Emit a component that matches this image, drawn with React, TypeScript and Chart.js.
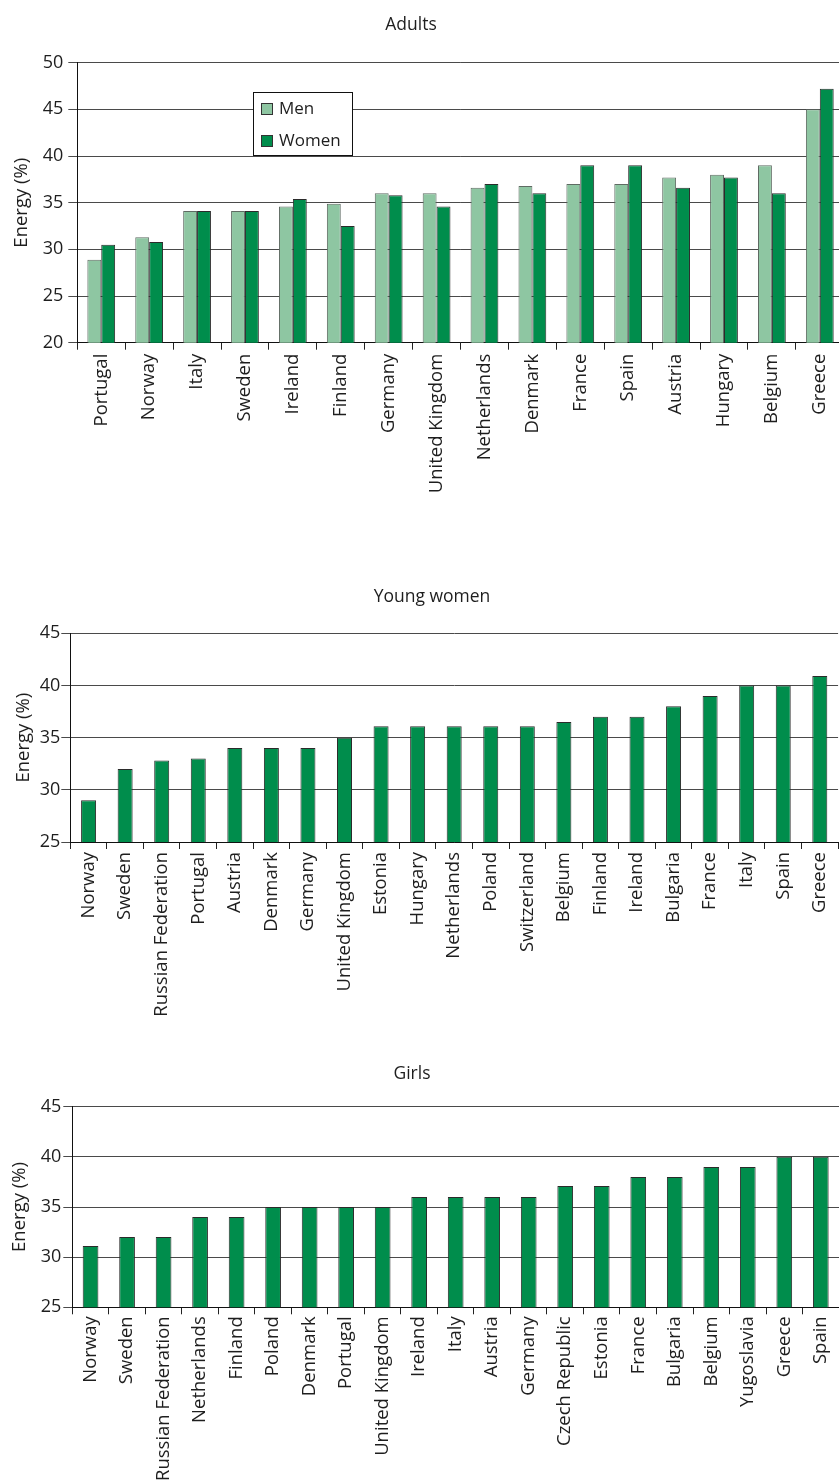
import React, { useEffect, useRef } from "react";
import { Chart, registerables } from "chart.js";

Chart.register(...registerables);

// ---------- DATA ----------
const adultCountries = [
  "Portugal", "Norway", "Italy", "Sweden", "Ireland", "Finland", "Germany",
  "United Kingdom", "Netherlands", "Denmark", "France", "Spain", "Austria",
  "Hungary", "Belgium", "Greece",
];
const adultMen = [28.9, 31.3, 34.1, 34.1, 34.6, 34.9, 36.0, 36.0, 36.6, 36.8, 37.0, 37.0, 37.7, 38.0, 39.0, 45.0];
const adultWomen = [30.5, 30.8, 34.1, 34.1, 35.4, 32.5, 35.8, 34.6, 37.0, 36.0, 39.0, 39.0, 36.6, 37.7, 36.0, 47.2];
const adultYTicks = [20, 25, 30, 35, 40, 45, 50];

const youngCountries = [
  "Norway", "Sweden", "Russian Federation", "Portugal", "Austria", "Denmark",
  "Germany", "United Kingdom", "Estonia", "Hungary", "Netherlands", "Poland",
  "Switzerland", "Belgium", "Finland", "Ireland", "Bulgaria", "France", "Italy",
  "Spain", "Greece",
];
const youngValues = [29.0, 32.0, 32.8, 33.0, 34.0, 34.0, 34.0, 35.0, 36.1, 36.1, 36.1, 36.1, 36.1, 36.5, 37.0, 37.0, 38.0, 39.0, 40.0, 40.0, 40.9];
const youngYTicks = [25, 30, 35, 40, 45];

const girlCountries = [
  "Norway", "Sweden", "Russian Federation", "Netherlands", "Finland", "Poland",
  "Denmark", "Portugal", "United Kingdom", "Ireland", "Italy", "Austria",
  "Germany", "Czech Republic", "Estonia", "France", "Bulgaria", "Belgium",
  "Yugoslavia", "Greece", "Spain",
];
const girlValues = [31.1, 32.0, 32.0, 34.0, 34.0, 35.0, 35.0, 35.0, 35.0, 36.0, 36.0, 36.0, 36.0, 37.1, 37.1, 38.0, 38.0, 39.0, 39.0, 40.0, 40.0];
const girlYTicks = [25, 30, 35, 40, 45];

const seriesNames = ["Men", "Women"];
const panelTitles = ["Adults", "Young women", "Girls"];
const axisTitle = "Energy (%)";

// ---------- STYLE ----------
const FONT = "'Open Sans', 'Noto Sans', sans-serif";
const LIGHT = "#8ec6a2";
const DARK = "#008d4c";
const TEXT = "#1e1e1e";

const panelTitlePlugin = {
  id: "panelTitle",
  afterDraw(chart: any, _args: any, opts: any) {
    if (!opts || !opts.text) return;
    const { ctx } = chart;
    ctx.save();
    ctx.fillStyle = TEXT;
    ctx.font = `${opts.fontSize}px ${FONT}`;
    ctx.textAlign = "center";
    ctx.textBaseline = "alphabetic";
    ctx.fillText(opts.text, opts.x, opts.baseline);
    ctx.restore();
  },
};

const boxLegendPlugin = {
  id: "boxLegend",
  afterDatasetsDraw(chart: any, _args: any, opts: any) {
    if (!opts || !opts.display) return;
    const { ctx, chartArea } = chart;
    const x = Math.round(chartArea.left + opts.offsetX);
    const y = Math.round(chartArea.top + opts.offsetY);
    ctx.save();
    ctx.fillStyle = "#fff";
    ctx.fillRect(x, y, opts.width, opts.height);
    ctx.strokeStyle = "#111";
    ctx.lineWidth = 1;
    ctx.strokeRect(x + 0.5, y + 0.5, opts.width, opts.height);
    chart.data.datasets.forEach((ds: any, i: number) => {
      const cy = y + opts.firstRowY + i * opts.rowGap;
      const bx = x + opts.boxX;
      const by = Math.round(cy - opts.box / 2);
      ctx.fillStyle = ds.backgroundColor;
      ctx.fillRect(bx, by, opts.box, opts.box);
      ctx.strokeStyle = "#333";
      ctx.strokeRect(bx + 0.5, by + 0.5, opts.box - 1, opts.box - 1);
      ctx.fillStyle = TEXT;
      ctx.font = `${opts.fontSize}px ${FONT}`;
      ctx.textBaseline = "middle";
      ctx.textAlign = "left";
      ctx.fillText(ds.label, x + opts.textX, cy + 1);
    });
    ctx.restore();
  },
};

type PanelProps = {
  top: number;
  width: number;
  height: number;
  config: any;
};

function Panel({ top, width, height, config }: PanelProps) {
  const ref = useRef<HTMLCanvasElement | null>(null);
  useEffect(() => {
    if (!ref.current) return;
    const chart = new Chart(ref.current, config);
    return () => chart.destroy();
  }, [config]);
  return (
    <canvas
      ref={ref}
      width={width}
      height={height}
      style={{ position: "absolute", left: 0, top, width, height, display: "block" }}
    />
  );
}

function makeConfig(p: {
  labels: string[];
  datasets: any[];
  yTicks: number[];
  title: string;
  titleX: number;
  titleBaseline: number;
  areaTop: number;
  yWidth: number;
  xHeight: number;
  yTickPad: number;
  yTitlePad: number;
  xTickPad: number;
  legend?: any;
}) {
  const yMin = p.yTicks[0];
  const yMax = p.yTicks[p.yTicks.length - 1];
  return {
    type: "bar",
    data: { labels: p.labels, datasets: p.datasets },
    plugins: [boxLegendPlugin, panelTitlePlugin],
    options: {
      responsive: false,
      animation: false,
      devicePixelRatio: 1,
      layout: { padding: { top: p.areaTop, left: 0, right: 0, bottom: 0 } },
      plugins: {
        legend: { display: false },
        tooltip: { enabled: false },
        title: { display: false },
        panelTitle: { text: p.title, x: p.titleX, baseline: p.titleBaseline, fontSize: 17.5 },
        boxLegend: p.legend || { display: false },
      },
      scales: {
        x: {
          type: "category",
          offset: true,
          grid: {
            display: true,
            offset: true,
            drawOnChartArea: false,
            drawTicks: true,
            tickLength: 7,
            color: "#222",
            lineWidth: 1,
          },
          border: { display: true, color: "#111", width: 1 },
          ticks: {
            autoSkip: false,
            minRotation: 90,
            maxRotation: 90,
            padding: p.xTickPad,
            color: TEXT,
            font: { family: FONT, size: 18.5 },
          },
          afterFit(scale: any) {
            scale.height = p.xHeight;
          },
        },
        y: {
          type: "linear",
          min: yMin,
          max: yMax,
          afterBuildTicks(scale: any) {
            scale.ticks = p.yTicks.map((v) => ({ value: v }));
          },
          grid: {
            display: true,
            drawOnChartArea: true,
            drawTicks: true,
            tickLength: 9,
            color: "#4a4a4a",
            lineWidth: 1,
          },
          border: { display: true, color: "#111", width: 1 },
          ticks: {
            padding: p.yTickPad,
            color: TEXT,
            font: { family: FONT, size: 18 },
          },
          title: {
            display: true,
            text: axisTitle,
            color: TEXT,
            font: { family: FONT, size: 18.5 },
            padding: { top: p.yTitlePad, bottom: 0 },
          },
          afterFit(scale: any) {
            scale.width = p.yWidth;
          },
        },
      },
    },
  };
}

const barStyle = { borderWidth: 1, borderSkipped: "start" };

const adultConfig = makeConfig({
  labels: adultCountries,
  datasets: [
    {
      label: seriesNames[0],
      data: adultMen,
      backgroundColor: LIGHT,
      borderColor: "#5f6b63",
      categoryPercentage: 0.58,
      barPercentage: 1.0,
      ...barStyle,
    },
    {
      label: seriesNames[1],
      data: adultWomen,
      backgroundColor: DARK,
      borderColor: "#2b2b2b",
      categoryPercentage: 0.58,
      barPercentage: 1.0,
      ...barStyle,
    },
  ],
  yTicks: adultYTicks,
  title: panelTitles[0],
  titleX: 411,
  titleBaseline: 30,
  areaTop: 62.7,
  yWidth: 77.3,
  xHeight: 177.3,
  yTickPad: 5,
  yTitlePad: 11,
  xTickPad: 4,
  legend: {
    display: true,
    offsetX: 175.7,
    offsetY: 29.3,
    width: 99,
    height: 63,
    boxX: 8,
    box: 12,
    firstRowY: 16.5,
    rowGap: 32,
    textX: 26,
    fontSize: 17,
  },
});

const youngConfig = makeConfig({
  labels: youngCountries,
  datasets: [
    {
      label: panelTitles[1],
      data: youngValues,
      backgroundColor: DARK,
      borderColor: "#2b2b2b",
      categoryPercentage: 1.0,
      barPercentage: 0.41,
      ...barStyle,
    },
  ],
  yTicks: youngYTicks,
  title: panelTitles[1],
  titleX: 432,
  titleBaseline: 42,
  areaTop: 73.3,
  yWidth: 70.3,
  xHeight: 185,
  yTickPad: 1,
  yTitlePad: 13,
  xTickPad: 3,
});

const girlConfig = makeConfig({
  labels: girlCountries,
  datasets: [
    {
      label: panelTitles[2],
      data: girlValues,
      backgroundColor: DARK,
      borderColor: "#2b2b2b",
      categoryPercentage: 1.0,
      barPercentage: 0.43,
      ...barStyle,
    },
  ],
  yTicks: girlYTicks,
  title: panelTitles[2],
  titleX: 412,
  titleBaseline: 39,
  areaTop: 66.7,
  yWidth: 72.3,
  xHeight: 172.7,
  yTickPad: 2,
  yTitlePad: 9,
  xTickPad: 2,
});

export default function App() {
  return (
    <div
      style={{
        position: "absolute",
        left: 0,
        top: 0,
        width: 839,
        height: 1480,
        overflow: "hidden",
        background: "#fff",
      }}
    >
      <Panel top={0} width={846} height={520} config={adultConfig} />
      <Panel top={560} width={845} height={467} config={youngConfig} />
      <Panel top={1040} width={845} height={440} config={girlConfig} />
    </div>
  );
}
